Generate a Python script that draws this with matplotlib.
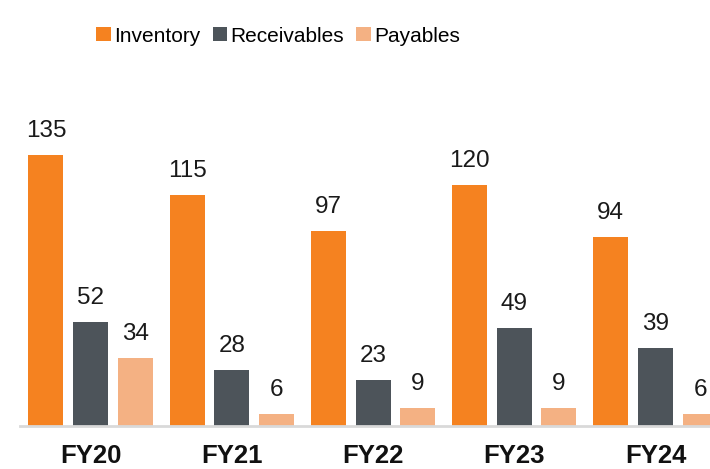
import matplotlib.pyplot as plt
import numpy as np

plt.rcParams['font.family'] = ['Liberation Sans', 'DejaVu Sans']

years = ["FY20", "FY21", "FY22", "FY23", "FY24"]
inventory = [135, 115, 97, 120, 94]
receivables = [52, 28, 23, 49, 39]
payables = [34, 6, 9, 9, 6]

series = [("Inventory", inventory, "#F58220"),
          ("Receivables", receivables, "#4D545A"),
          ("Payables", payables, "#F4B183")]

fig = plt.figure(figsize=(7.1, 4.69), dpi=100)
ax = fig.add_axes([20 / 710, 43 / 469, 690 / 710, 366 / 469])

x = np.arange(len(years))
step = 0.316
width = 0.248
handles = []
for k, (name, vals, col) in enumerate(series):
    pos = x + (k - 1) * step
    b = ax.bar(pos, vals, width, color=col, label=name)
    handles.append(b)
    for px, v in zip(pos, vals):
        ax.text(px, v + 6.5, str(v), ha="center", va="bottom",
                fontsize=17.5, color="#1a1a1a")

ax.set_xlim(-0.5, 4.386)
ax.set_ylim(0, 366 / 2.007)
for s in ["top", "right", "left"]:
    ax.spines[s].set_visible(False)
ax.spines["bottom"].set_color("#D9D9D9")
ax.spines["bottom"].set_linewidth(2)
ax.set_yticks([])
ax.set_xticks(x)
ax.set_xticklabels(years, fontsize=18.5, fontweight="bold", color="#111111")
ax.tick_params(axis="x", length=0, pad=13)

fig.legend(handles=handles, loc="center", bbox_to_anchor=(278 / 710, 1 - 36 / 469),
           ncol=3, frameon=False, fontsize=15,
           handlelength=0.7, handleheight=0.7,
           handletextpad=0.15, columnspacing=0.6)

fig.savefig("out.png", dpi=100)
